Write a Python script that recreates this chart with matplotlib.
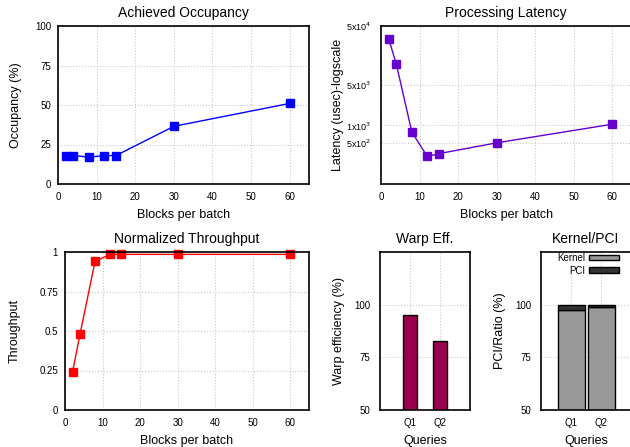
import matplotlib
matplotlib.use("Agg")
import matplotlib.pyplot as plt

plt.rcParams['font.family'] = ['Liberation Sans', 'DejaVu Sans']

# data
blocks = [2, 4, 8, 12, 15, 30, 60]
occupancy = [18, 18, 17, 18, 18, 36.5, 51]
latency = [30000, 11000, 770, 295, 330, 505, 1050]
throughput = [0.24, 0.48, 0.94, 0.985, 0.985, 0.985, 0.985]

queries = ['Q1', 'Q2']
warp_eff = [95.1, 82.7]
kernel_ratio = [97.5, 98.7]
pci_ratio = [2.5, 1.3]

W, H = 630, 447
fig = plt.figure(figsize=(W / 100, H / 100), dpi=100)


def add_axes(left, right, top, bottom):
    return fig.add_axes([left / W, 1 - bottom / H, (right - left) / W, (bottom - top) / H])


def style(ax, title, xlabel, ylabel, ylab_x, ypad=5, ysize=7):
    for s in ax.spines.values():
        s.set_linewidth(1.2)
    ax.tick_params(axis='x', length=0, labelsize=7, pad=5.5)
    ax.tick_params(axis='y', which='both', length=0, labelsize=ysize, pad=ypad)
    ax.grid(True, color='#c8c8c8', linestyle=':', linewidth=0.8)
    ax.set_axisbelow(True)
    ax.set_title(title, fontsize=10, pad=6.5)
    ax.set_xlabel(xlabel, fontsize=9, labelpad=5)
    ax.set_ylabel(ylabel, fontsize=9)
    ax.yaxis.set_label_coords(ylab_x, 0.5)


# 1 achieved occupancy
ax1 = add_axes(58, 309, 26, 184)
ax1.plot(blocks, occupancy, color='#0000ff', lw=1, marker='s', ms=6)
ax1.set_xlim(0, 65)
ax1.set_ylim(0, 100)
ax1.set_xticks(range(0, 61, 10))
ax1.set_yticks([0, 25, 50, 75, 100])
style(ax1, 'Achieved Occupancy', 'Blocks per batch', 'Occupancy (%)', -0.145)

# 2 processing latency
ax2 = add_axes(381, 631.6, 26, 184)
ax2.plot(blocks, latency, color='#6600cc', lw=1, marker='s', ms=6)
ax2.set_yscale('log')
ax2.set_xlim(0, 65)
ax2.set_ylim(100, 50000)
ax2.set_xticks(range(0, 61, 10))
ax2.minorticks_off()
ax2.set_yticks([500, 1000, 5000, 50000])
ax2.set_yticklabels([r'5x10$^2$', r'1x10$^3$', r'5x10$^3$', r'5x10$^4$'])
style(ax2, 'Processing Latency', 'Blocks per batch', 'Latency (usec)-logscale', -0.148,
      ypad=7, ysize=6.5)

# 3 normalized throughput
ax3 = add_axes(65, 309, 252, 410)
ax3.plot(blocks, throughput, color='#ff0000', lw=1, marker='s', ms=6, clip_on=False)
ax3.set_xlim(0, 65)
ax3.set_ylim(0, 1)
ax3.set_xticks(range(0, 61, 10))
ax3.set_yticks([0, 0.25, 0.5, 0.75, 1])
ax3.set_yticklabels(['0', '0.25', '0.5', '0.75', '1'])
style(ax3, 'Normalized Throughput', 'Blocks per batch', 'Throughput', -0.18)

# 4 warp efficiency
ax4 = add_axes(380, 470, 252, 410)
x = range(len(queries))
ax4.bar(x, warp_eff, width=0.45, color='#99004d', edgecolor='black', linewidth=1)
ax4.set_xlim(-1, 2)
ax4.set_ylim(50, 125)
ax4.set_xticks(list(x))
ax4.set_xticklabels(queries)
ax4.set_yticks([50, 75, 100])
style(ax4, 'Warp Eff.', 'Queries', 'Warp efficiency (%)', -0.39, ypad=7)

# 5 kernel / pci
ax5 = add_axes(541, 631, 252, 410)
ax5.bar(x, kernel_ratio, width=0.9, color='#999999', edgecolor='black', linewidth=1, label='Kernel')
ax5.bar(x, pci_ratio, bottom=kernel_ratio, width=0.9, color='#333333', edgecolor='black',
        linewidth=1, label='PCI')
ax5.set_xlim(-1, 2)
ax5.set_ylim(50, 125)
ax5.set_xticks(list(x))
ax5.set_xticklabels(queries)
ax5.set_yticks([50, 75, 100])
style(ax5, 'Kernel/PCI', 'Queries', 'PCI/Ratio (%)', -0.394, ypad=7)
ax5.legend(loc='upper right', bbox_to_anchor=((619 - 541) / 90, 0.995), frameon=False,
           markerfirst=False, fontsize=7, handlelength=3.1, handleheight=0.5,
           labelspacing=0.3, borderpad=0, borderaxespad=0, handletextpad=0.35)

fig.savefig('out.png', dpi=100)
